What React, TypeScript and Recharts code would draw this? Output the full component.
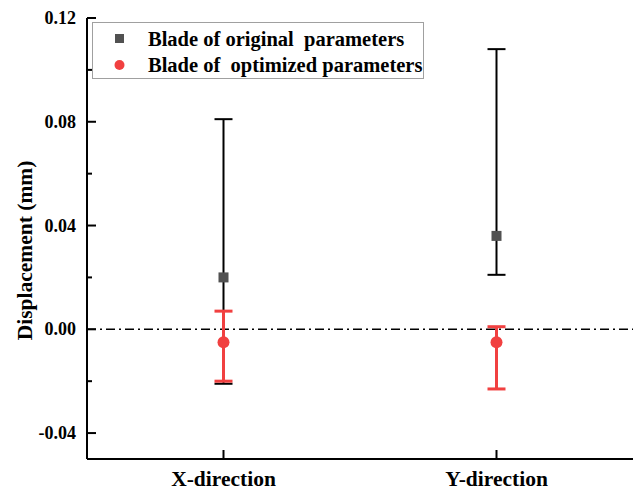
import { ComposedChart, Line, XAxis, YAxis, ErrorBar, ReferenceLine, Legend } from "recharts";

// values
const categories = ["X-direction", "Y-direction"];
const originalMean = [0.02, 0.036];
const originalLow = [-0.021, 0.021];
const originalHigh = [0.081, 0.108];
const optimizedMean = [-0.005, -0.005];
const optimizedLow = [-0.02, -0.023];
const optimizedHigh = [0.007, 0.001];
const yTicks = [-0.04, -0.02, 0, 0.02, 0.04, 0.06, 0.08, 0.1, 0.12];
const seriesOrder = ["original", "optimized"];

const GRAY = "#515151";
const RED = "#F14040";
const FONT = "'Liberation Serif', 'Times New Roman', serif";

const data = categories.map((name, i) => ({
    name,
    original: originalMean[i],
    originalErr: [originalMean[i] - originalLow[i], originalHigh[i] - originalMean[i]],
    optimized: optimizedMean[i],
    optimizedErr: [optimizedMean[i] - optimizedLow[i], optimizedHigh[i] - optimizedMean[i]],
}));

const YTick = ({ x, y, payload }: any) => {
    const v = payload.value;
    const major = Math.round(v * 100) % 4 === 0;
    return (
        <g>
            <line x1={x} x2={x + (major ? 9 : 5)} y1={y} y2={y} stroke="#000" strokeWidth={2} />
            {major && (
                <text x={x - 11} y={y} dy={6} textAnchor="end" fontFamily={FONT} fontWeight="bold" fontSize={18} fill="#000">
                    {v.toFixed(2)}
                </text>
            )}
        </g>
    );
};

const XTick = ({ x, y, payload }: any) => (
    <g>
        <line x1={x} x2={x} y1={y} y2={y - 9} stroke="#000" strokeWidth={2} />
        <text x={x} y={y + 27} textAnchor="middle" fontFamily={FONT} fontWeight="bold" fontSize={21.5} fill="#000">
            {payload.value}
        </text>
    </g>
);

const YLabel = ({ viewBox }: any) => {
    const cx = 32;
    const cy = viewBox.y + viewBox.height / 2 + 12;
    return (
        <text x={cx} y={cy} transform={`rotate(-90, ${cx}, ${cy})`} textAnchor="middle"
            fontFamily={FONT} fontWeight="bold" fontSize={21.5} fill="#000">
            Displacement (mm)
        </text>
    );
};

const SquareDot = ({ cx, cy, index }: any) => (
    <rect key={`sq-${index}`} x={cx - 5} y={cy - 5} width={10} height={10} fill={GRAY} />
);

const CircleDot = ({ cx, cy, index }: any) => (
    <circle key={`ci-${index}`} cx={cx} cy={cy} r={6} fill={RED} />
);

const LegendBox = ({ payload }: any) => {
    const items = [...(payload || [])].sort(
        (a: any, b: any) => seriesOrder.indexOf(a.dataKey) - seriesOrder.indexOf(b.dataKey)
    );
    return (
        <div style={{
            border: "1px solid #a0a0a0",
            background: "white",
            width: 332,
            height: 57,
            boxSizing: "border-box",
            padding: "3px 0 0 0",
            fontFamily: FONT,
            fontWeight: "bold",
            fontSize: 20.5,
            lineHeight: "26px",
        }}>
            {items.map((p: any) => (
                <div key={p.value} style={{ display: "flex", alignItems: "center", height: 26, whiteSpace: "pre" }}>
                    <svg width={55} height={14} style={{ flexShrink: 0 }}>
                        {p.dataKey === "original"
                            ? <rect x={22} y={2} width={9} height={9} fill={GRAY} />
                            : <circle cx={26.5} cy={7} r={5} fill={RED} />}
                    </svg>
                    <span>{p.value}</span>
                </div>
            ))}
        </div>
    );
};

export default function App() {
    return (
        <div style={{ position: "absolute", left: 0, top: 0, background: "white" }}>
            <ComposedChart width={635} height={492} data={data} margin={{ top: 18, right: 2, bottom: 0, left: 0 }}>
                <XAxis
                    dataKey="name"
                    scale="band"
                    axisLine={{ stroke: "#000", strokeWidth: 2 }}
                    tickLine={false}
                    tickSize={0}
                    tickMargin={0}
                    height={33}
                    tick={<XTick />}
                    interval={0}
                />
                <XAxis xAxisId="top" orientation="top" dataKey="name" scale="band" tick={false} tickLine={false}
                    axisLine={{ stroke: "#000", strokeWidth: 2 }} height={0} />
                <YAxis
                    domain={[-0.05, 0.12]}
                    ticks={yTicks}
                    interval={0}
                    allowDataOverflow
                    axisLine={{ stroke: "#000", strokeWidth: 2 }}
                    tickLine={false}
                    tickSize={0}
                    tickMargin={0}
                    width={87}
                    tick={<YTick />}
                    label={<YLabel />}
                />
                <ReferenceLine y={0} stroke="#000" strokeWidth={1.5} strokeDasharray="9 4 2 4" />
                <Legend
                    layout="vertical"
                    align="center"
                    verticalAlign="middle"
                    wrapperStyle={{ position: "absolute", left: 92, top: 22, width: "auto", height: "auto" }}
                    content={<LegendBox />}
                />
                <Line
                    dataKey="original"
                    name="Blade of original  parameters"
                    stroke="none"
                    dot={<SquareDot />}
                    activeDot={false}
                    isAnimationActive={false}
                >
                    <ErrorBar dataKey="originalErr" width={9} stroke="#000" strokeWidth={2} direction="y" />
                </Line>
                <Line
                    dataKey="optimized"
                    name="Blade of  optimized parameters"
                    stroke="none"
                    dot={<CircleDot />}
                    activeDot={false}
                    isAnimationActive={false}
                >
                    <ErrorBar dataKey="optimizedErr" width={9} stroke={RED} strokeWidth={3} direction="y" />
                </Line>
            </ComposedChart>
        </div>
    );
}
